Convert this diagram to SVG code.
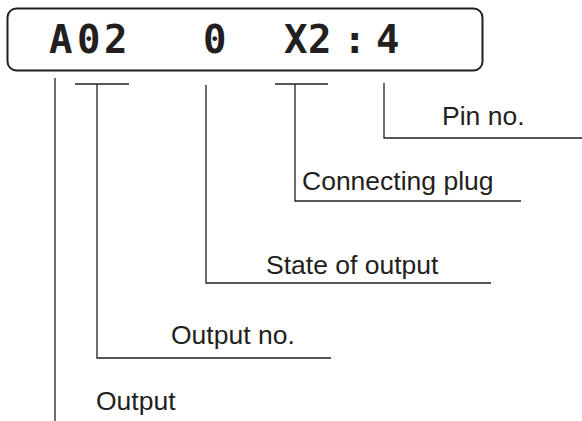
<svg xmlns="http://www.w3.org/2000/svg" width="582" height="421" viewBox="0 0 582 421">
<style>
.lbl{font-family:"Liberation Sans",Arial,sans-serif;font-size:26.5px;fill:#231f20}
.seg{font-family:"DejaVu Sans Mono",monospace;font-weight:bold;font-size:39px;fill:#231f20}
.ln{fill:none;stroke:#231f20;stroke-width:1.3}
</style>
<rect width="582" height="421" fill="#fff"/>
<g id="display">
<rect x="7.5" y="8.5" width="475" height="62" rx="9" fill="#fff" stroke="#231f20" stroke-width="2"/>
<text class="seg" x="49 77 104" y="52.5">A02</text>
<text class="seg" x="203" y="52.5">0</text>
<text class="seg" x="284 308 343 376" y="52.5">X2:4</text>
</g>
<g id="connectors">
<path class="ln" d="M55,78 V421"/>
<path class="ln" d="M75,84 H129 M97,84 V358 H331"/>
<path class="ln" d="M206,85 V283 H491"/>
<path class="ln" d="M275,84 H328 M295,84 V201 H521"/>
<path class="ln" d="M384,83 V138 H582"/>
</g>
<g id="pin"><text class="lbl" x="442" y="125">Pin no.</text></g>
<g id="plug"><text class="lbl" x="302" y="190">Connecting plug</text></g>
<g id="state"><text class="lbl" x="266" y="274">State of output</text></g>
<g id="outno"><text class="lbl" x="171" y="344">Output no.</text></g>
<g id="output"><text class="lbl" x="96" y="410">Output</text></g>
</svg>
